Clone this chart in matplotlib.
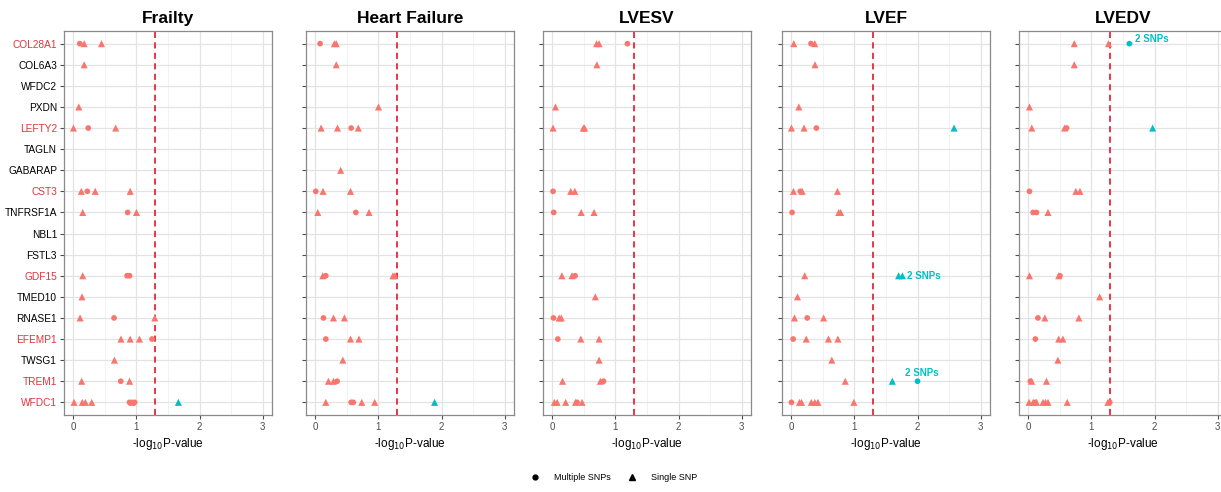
import matplotlib
matplotlib.use("Agg")
import matplotlib.pyplot as plt
from matplotlib.lines import Line2D
import numpy as np

plt.rcParams['font.family'] = ['Liberation Sans', 'DejaVu Sans']

genes = ["COL28A1", "COL6A3", "WFDC2", "PXDN", "LEFTY2", "TAGLN", "GABARAP", "CST3",
         "TNFRSF1A", "NBL1", "FSTL3", "GDF15", "TMED10", "RNASE1", "EFEMP1", "TWSG1",
         "TREM1", "WFDC1"]
red_genes = ["COL28A1", "LEFTY2", "CST3", "GDF15", "EFEMP1", "TREM1", "WFDC1"]
outcomes = ["Frailty", "Heart Failure", "LVESV", "LVEF", "LVEDV"]
x_ticks = [0, 1, 2, 3]

frailty_multi = {"COL28A1": [0.10], "LEFTY2": [0.235], "CST3": [0.22], "TNFRSF1A": [0.86],
                 "GDF15": [0.85, 0.89], "RNASE1": [0.644], "EFEMP1": [1.246], "TREM1": [0.75],
                 "WFDC1": [0.89, 0.97]}
frailty_single = {"COL28A1": [0.17, 0.445], "COL6A3": [0.17], "PXDN": [0.085], "LEFTY2": [0.0, 0.67],
                  "CST3": [0.125, 0.345, 0.90], "TNFRSF1A": [0.147, 1.0], "GDF15": [0.147],
                  "TMED10": [0.136], "RNASE1": [0.105, 1.29], "EFEMP1": [0.754, 0.90, 1.047],
                  "TWSG1": [0.65], "TREM1": [0.13, 0.89], "WFDC1": [0.01, 0.14, 0.19, 0.29, 0.93, 1.665]}

hf_multi = {"COL28A1": [0.074], "LEFTY2": [0.566], "CST3": [0.005], "TNFRSF1A": [0.64],
            "GDF15": [0.164], "RNASE1": [0.127], "EFEMP1": [0.164], "TREM1": [0.344],
            "WFDC1": [0.566, 0.60]}
hf_single = {"COL28A1": [0.30, 0.33], "COL6A3": [0.33], "PXDN": [1.0], "LEFTY2": [0.09, 0.35, 0.68],
             "GABARAP": [0.40], "CST3": [0.12, 0.556], "TNFRSF1A": [0.037, 0.85],
             "GDF15": [0.116, 1.23, 1.26], "RNASE1": [0.286, 0.46], "EFEMP1": [0.556, 0.69],
             "TWSG1": [0.434], "TREM1": [0.206, 0.286], "WFDC1": [0.164, 0.735, 0.94, 1.89]}

lvesv_multi = {"COL28A1": [1.19], "CST3": [0.01], "TNFRSF1A": [0.02], "GDF15": [0.36],
               "RNASE1": [0.016], "EFEMP1": [0.085], "TREM1": [0.81], "WFDC1": [0.39]}
lvesv_single = {"COL28A1": [0.70, 0.74], "COL6A3": [0.705], "PXDN": [0.048], "LEFTY2": [0.01, 0.49, 0.51],
                "CST3": [0.29, 0.355], "TNFRSF1A": [0.456, 0.66], "GDF15": [0.15, 0.31],
                "TMED10": [0.68], "RNASE1": [0.106, 0.14], "EFEMP1": [0.45, 0.74], "TWSG1": [0.74],
                "TREM1": [0.16, 0.76], "WFDC1": [0.03, 0.074, 0.21, 0.366, 0.47]}

lvef_multi = {"COL28A1": [0.31], "LEFTY2": [0.395], "CST3": [0.14], "TNFRSF1A": [0.01],
              "RNASE1": [0.25], "EFEMP1": [0.027], "TREM1": [2.0], "WFDC1": [0.0]}
lvef_single = {"COL28A1": [0.037, 0.37], "COL6A3": [0.374], "PXDN": [0.117], "LEFTY2": [0.0, 0.20, 2.58],
               "CST3": [0.032, 0.17, 0.73], "TNFRSF1A": [0.75, 0.78], "GDF15": [0.21, 1.70, 1.76],
               "TMED10": [0.096], "RNASE1": [0.048, 0.51], "EFEMP1": [0.235, 0.587, 0.737],
               "TWSG1": [0.64], "TREM1": [0.854, 1.60], "WFDC1": [0.128, 0.16, 0.315, 0.37, 0.42, 0.99]}

lvedv_multi = {"COL28A1": [1.60], "LEFTY2": [0.605], "CST3": [0.016], "TNFRSF1A": [0.074, 0.127],
               "GDF15": [0.50], "RNASE1": [0.15], "EFEMP1": [0.11], "TREM1": [0.03],
               "WFDC1": [0.106, 1.29]}
lvedv_single = {"COL28A1": [0.727, 1.27], "COL6A3": [0.727], "PXDN": [0.016], "LEFTY2": [0.053, 0.573, 1.97],
                "CST3": [0.753, 0.817], "TNFRSF1A": [0.31], "GDF15": [0.016, 0.48], "TMED10": [1.13],
                "RNASE1": [0.26, 0.80], "EFEMP1": [0.48, 0.546], "TWSG1": [0.467], "TREM1": [0.05, 0.286],
                "WFDC1": [0.01, 0.074, 0.127, 0.23, 0.27, 0.31, 0.615, 1.26]}

# annotations: (outcome, gene, x of point, label)
snp_labels = [("LVEF", "GDF15", 1.76, "2 SNPs"), ("LVEF", "TREM1", 2.0, "2 SNPs"),
              ("LVEDV", "COL28A1", 1.60, "2 SNPs")]

threshold = -np.log10(0.05)

multi_sets = [frailty_multi, hf_multi, lvesv_multi, lvef_multi, lvedv_multi]
single_sets = [frailty_single, hf_single, lvesv_single, lvef_single, lvedv_single]

RED = "#F8766D"
TEAL = "#00BFC4"
LINE_RED = "#E8253B"
LABEL_RED = "#E0343A"

W, H = 1221, 492
fig = plt.figure(figsize=(W / 100, H / 100), dpi=100)
lefts = [64, 306, 543, 782, 1019]
pw = 208
top_px, bot_px = 31, 415

ngen = len(genes)
ypos = {g: ngen - i for i, g in enumerate(genes)}

for k, name in enumerate(outcomes):
    ax = fig.add_axes([lefts[k] / W, 1 - bot_px / H, pw / W, (bot_px - top_px) / H])
    ax.set_xlim(-0.15, 3.15)
    ax.set_ylim(0.4, ngen + 0.6)
    ax.set_xticks(x_ticks)
    ax.set_xticks([0.5, 1.5, 2.5], minor=True)
    ax.set_yticks([ypos[g] for g in genes])
    ax.grid(True, which="major", color="#E3E3E3", linewidth=0.9)
    ax.grid(True, which="minor", axis="x", color="#F0F0F0", linewidth=0.6)
    ax.set_axisbelow(True)
    for s in ax.spines.values():
        s.set_color("#8A8A8A")
        s.set_linewidth(0.9)
    ax.tick_params(axis="both", which="major", length=3, width=0.8, color="#4D4D4D",
                   labelsize=7, labelcolor="#4D4D4D", pad=2)
    ax.tick_params(axis="x", which="minor", length=0)
    if k == 0:
        ax.set_yticklabels(genes, fontsize=7.3, color="black")
        for lab in ax.get_yticklabels():
            if lab.get_text() in red_genes:
                lab.set_color(LABEL_RED)
    else:
        ax.set_yticklabels([])

    ax.axvline(threshold, color=LINE_RED, linestyle=(0, (3.4, 2.4)), linewidth=1.3, zorder=2)

    for data, marker, size in [(multi_sets[k], "o", 17), (single_sets[k], "^", 26)]:
        xs, ys, cs = [], [], []
        for g, vals in data.items():
            for v in vals:
                xs.append(v)
                ys.append(ypos[g])
                cs.append(TEAL if v > threshold else RED)
        ax.scatter(xs, ys, marker=marker, s=size, c=cs, linewidths=0, zorder=3)

    for (o, g, xv, txt) in snp_labels:
        if o != name:
            continue
        y = ypos[g]
        if g == "GDF15":
            ax.text(xv + 0.07, y, txt, color=TEAL, fontsize=7, fontweight="bold",
                    va="center", ha="left", zorder=4)
        elif g == "TREM1":
            ax.text(xv + 0.07, y + 0.38, txt, color=TEAL, fontsize=7, fontweight="bold",
                    va="center", ha="center", zorder=4)
        else:
            ax.annotate(txt, xy=(xv, y), xytext=(xv + 0.09, y + 0.22), color=TEAL,
                        fontsize=7, fontweight="bold", va="center", ha="left", zorder=4,
                        arrowprops=dict(arrowstyle="-", color=TEAL, lw=0.7,
                                        shrinkA=0, shrinkB=1))

    ax.set_title(name, fontsize=12.5, fontweight="bold", pad=6)
    ax.set_xlabel(r"-log$_{10}$P-value", fontsize=8.5, labelpad=3)

handles = [Line2D([], [], marker="o", linestyle="none", color="black", markersize=3.5),
           Line2D([], [], marker="^", linestyle="none", color="black", markersize=4.2)]
fig.legend(handles, ["Multiple SNPs", "Single SNP"], loc="center", ncol=2,
           bbox_to_anchor=(614 / W, 1 - 478 / H), frameon=False, fontsize=6.5,
           handletextpad=1.6, columnspacing=1.8, handlelength=1.0)

fig.savefig("out.png", dpi=100)
